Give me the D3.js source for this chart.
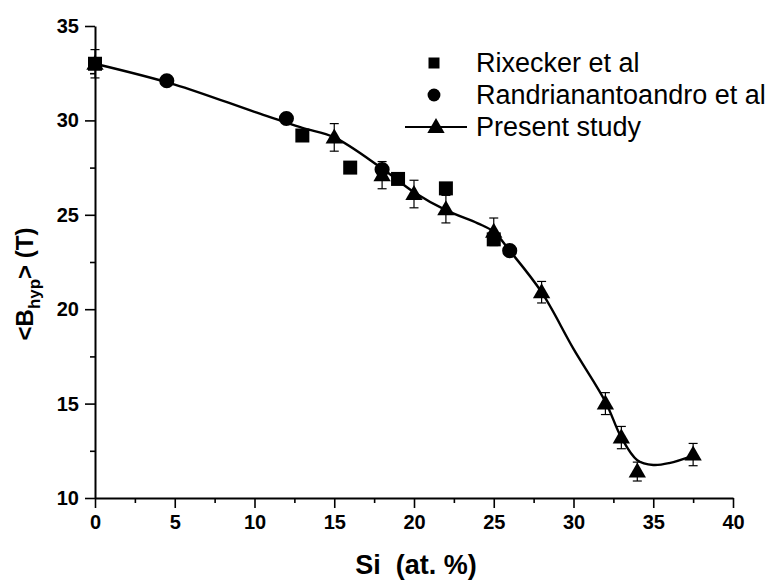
<!DOCTYPE html>
<html>
<head>
<meta charset="utf-8">
<script src="https://cdn.jsdelivr.net/npm/d3@7"></script>
<style>
  body { margin: 0; background: #fff; }
  svg { display: block; font-family: "Liberation Sans", Arial, sans-serif; }
</style>
</head>
<body>
<svg width="771" height="580"></svg>
<script>
// Rixecker et al (squares)
var rixSi = [0, 13, 16, 19, 22, 25];
var rixB  = [33.0, 29.2, 27.5, 26.9, 26.4, 23.7];

// Randrianantoandro et al (circles)
var ranSi = [4.5, 12, 18, 26];
var ranB  = [32.1, 30.1, 27.4, 23.1];

// Present study (triangles + error bars)
var preSi  = [0, 15, 18, 20, 22, 25, 28, 32, 33, 34, 37.5];
var preB   = [33.0, 29.1, 27.1, 26.1, 25.3, 24.1, 20.9, 15.0, 13.2, 11.4, 12.3];
var preErr = [0.75, 0.73, 0.72, 0.73, 0.73, 0.73, 0.57, 0.58, 0.59, 0.5, 0.59];

// guide curve drawn through the present study data
var fitSi = [0, 5, 10, 13, 15, 18, 20, 22, 24, 25, 26, 28, 30, 32, 33, 34, 35, 36, 37.5];
var fitB  = [33.0, 31.9, 30.45, 29.6, 29.1, 27.45, 26.2, 25.25, 24.55, 24.1, 23.1, 20.9, 17.9, 15.1, 13.2, 12.0, 11.75, 11.85, 12.25];

var xTicks = [0, 5, 10, 15, 20, 25, 30, 35, 40];
var yTicks = [10, 15, 20, 25, 30, 35];

var legendNames = ["Rixecker et al", "Randrianantoandro et al", "Present study"];

var svg = d3.select("svg");

var x = d3.scaleLinear().domain([0, 40]).range([95, 733]);
var y = d3.scaleLinear().domain([10, 35]).range([498, 26]);

// axes
svg.append("g")
    .attr("transform", "translate(0," + y(10) + ")")
    .call(d3.axisBottom(x).tickValues(xTicks).tickSize(10).tickPadding(7).tickSizeOuter(0));
svg.append("g")
    .attr("transform", "translate(" + x(0) + ",0)")
    .call(d3.axisLeft(y).tickValues(yTicks).tickSize(10).tickPadding(6).tickSizeOuter(0));

// minor ticks
svg.append("g")
    .attr("transform", "translate(0," + y(10) + ")")
    .call(d3.axisBottom(x).tickValues(d3.range(2.5, 40, 5)).tickSize(5).tickFormat("").tickSizeOuter(0))
    .select(".domain").remove();
svg.append("g")
    .attr("transform", "translate(" + x(0) + ",0)")
    .call(d3.axisLeft(y).tickValues(d3.range(12.5, 35, 5)).tickSize(5).tickFormat("").tickSizeOuter(0))
    .select(".domain").remove();

svg.selectAll(".domain").attr("stroke", "#000").attr("stroke-width", 2);
svg.selectAll(".tick line").attr("stroke", "#000").attr("stroke-width", 1.6);
svg.selectAll(".tick text")
    .attr("fill", "#000")
    .style("font-size", "20px")
    .style("font-weight", "bold")
    .style("font-family", "'Liberation Sans', Arial, sans-serif");

// axis titles
svg.append("text")
    .attr("x", 416).attr("y", 574)
    .attr("text-anchor", "middle")
    .style("white-space", "pre")
    .style("font-size", "27px").style("font-weight", "bold")
    .text("Si  (at. %)");

var yt = svg.append("text")
    .attr("transform", "translate(33,284) rotate(-90)")
    .attr("text-anchor", "middle")
    .style("font-size", "24px").style("font-weight", "bold");
yt.append("tspan").text("<B");
yt.append("tspan").attr("dy", 7).style("font-size", "17px").text("hyp");
yt.append("tspan").attr("dy", -7).style("white-space", "pre").text("> (T)");

// curve
var line = d3.line()
    .x(function (d, i) { return x(fitSi[i]); })
    .y(function (d, i) { return y(fitB[i]); })
    .curve(d3.curveCatmullRom.alpha(0.5));
svg.append("path")
    .datum(fitSi)
    .attr("d", line)
    .attr("fill", "none")
    .attr("stroke", "#000")
    .attr("stroke-width", 2.4);

// error bars
var eb = svg.append("g").attr("stroke", "#000").attr("stroke-width", 1.2);
preSi.forEach(function (s, i) {
    var cx = x(s), top = y(preB[i] + preErr[i]), bot = y(preB[i] - preErr[i]);
    eb.append("line").attr("x1", cx).attr("x2", cx).attr("y1", top).attr("y2", bot);
    eb.append("line").attr("x1", cx - 4.5).attr("x2", cx + 4.5).attr("y1", top).attr("y2", top);
    eb.append("line").attr("x1", cx - 4.5).attr("x2", cx + 4.5).attr("y1", bot).attr("y2", bot);
});

var sq = d3.symbol().type(d3.symbolSquare).size(196);
var ci = d3.symbol().type(d3.symbolCircle).size(180);
var tr = d3.symbol().type(d3.symbolTriangle).size(130);

svg.append("g").selectAll("path").data(preSi).enter().append("path")
    .attr("d", tr)
    .attr("transform", function (d, i) { return "translate(" + x(d) + "," + (y(preB[i]) + 1) + ")"; })
    .attr("fill", "#000");

svg.append("g").selectAll("path").data(rixSi).enter().append("path")
    .attr("d", sq)
    .attr("transform", function (d, i) { return "translate(" + x(d) + "," + y(rixB[i]) + ")"; })
    .attr("fill", "#000");

svg.append("g").selectAll("path").data(ranSi).enter().append("path")
    .attr("d", ci)
    .attr("transform", function (d, i) { return "translate(" + x(d) + "," + y(ranB[i]) + ")"; })
    .attr("fill", "#000");

// legend
var leg = svg.append("g");
var legY = [63, 95, 127];
leg.append("path").attr("d", d3.symbol().type(d3.symbolSquare).size(121))
    .attr("transform", "translate(434," + legY[0] + ")");
leg.append("path").attr("d", d3.symbol().type(d3.symbolCircle).size(130))
    .attr("transform", "translate(434," + legY[1] + ")");
leg.append("line").attr("x1", 405).attr("x2", 467).attr("y1", legY[2]).attr("y2", legY[2])
    .attr("stroke", "#000").attr("stroke-width", 1.8);
leg.append("path").attr("d", d3.symbol().type(d3.symbolTriangle).size(130))
    .attr("transform", "translate(436," + (legY[2] + 1) + ")");
leg.selectAll("text").data(legendNames).enter().append("text")
    .attr("x", 476)
    .attr("y", function (d, i) { return legY[i] + 9; })
    .style("font-size", "27px")
    .text(function (d) { return d; });
</script>
</body>
</html>
